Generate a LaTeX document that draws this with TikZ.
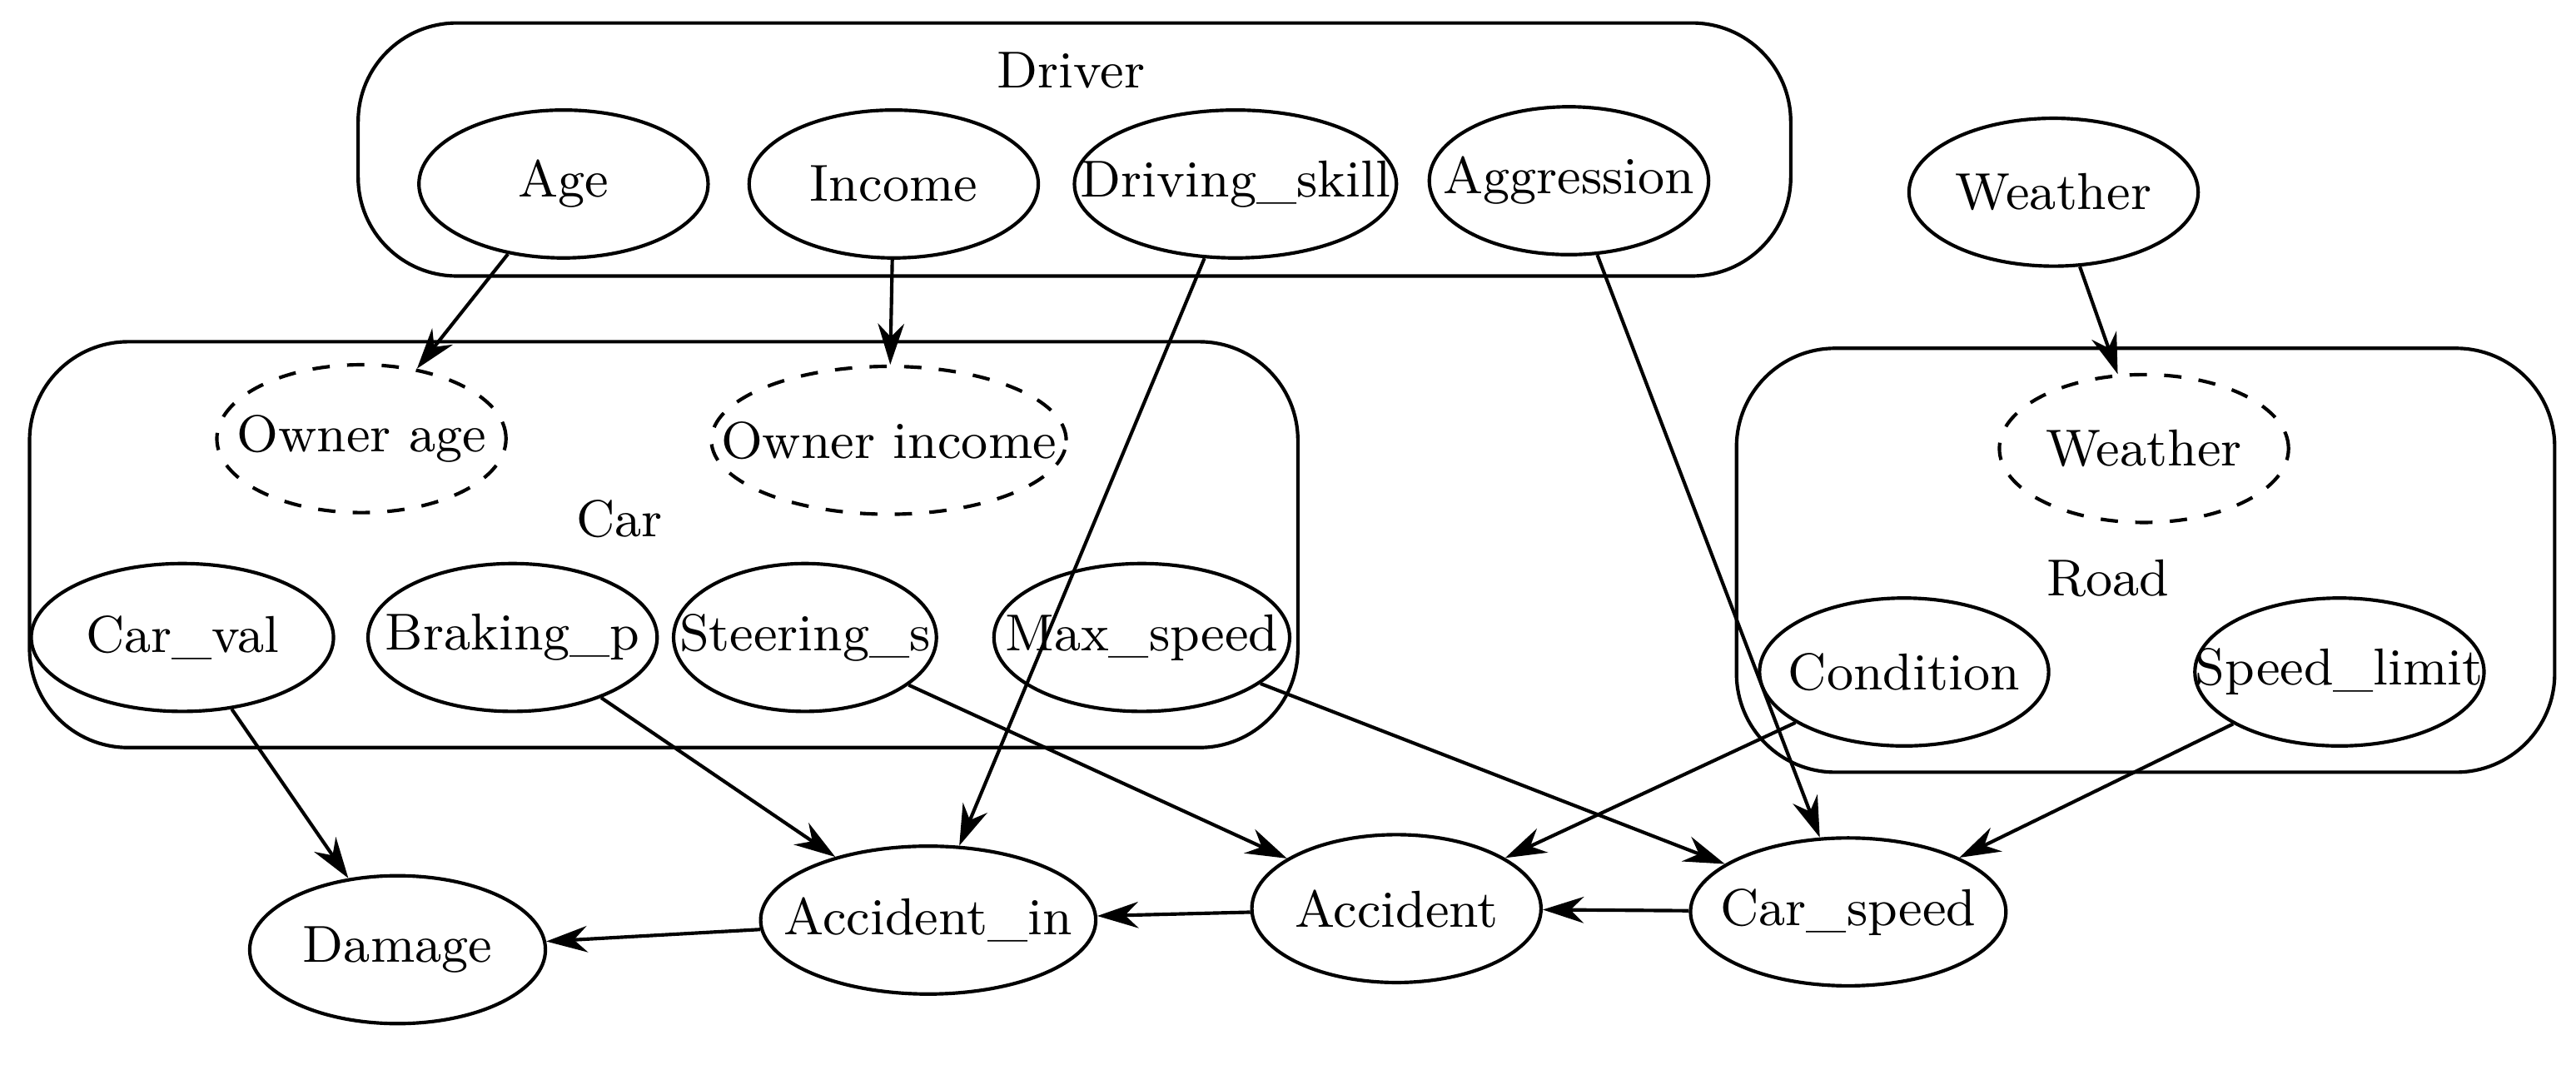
\documentclass[tikz,border=0pt]{standalone}
\usetikzlibrary{positioning,shapes.geometric,arrows.meta}
\newcommand{\vtext}[1]{\makebox[0pt]{#1}}
\begin{document}
\begin{tikzpicture}[
                font=\small,
                var/.style={ellipse, draw, semithick, inner sep=0pt, minimum height=9mm},
                hidvar/.style={var, dashed},
                group/.style={draw, semithick, rounded corners=6mm},
                edge/.style={-{Stealth[length=2.5mm,width=1.6mm]}, semithick},
            ]
            \useasboundingbox (0,0) rectangle (15.68,-6.48);

            % boxes
            \draw[group] (2.18,-0.14) rectangle (10.90,-1.68);
            \draw[group] (0.18,-2.08) rectangle (7.90,-4.55);
            \draw[group] (10.57,-2.12) rectangle (15.55,-4.70);
            \node (driver) at (6.52,-0.43) {Driver};
            \node (car) at (3.77,-3.16) {Car};
            \node (road) at (12.83,-3.52) {Road};

            % driver
            \node[var, minimum width=17.6mm] (age) at (3.43,-1.12) {\vtext{Age}};
            \node[var, minimum width=17.6mm] (income) at (5.44,-1.12) {\vtext{Income}};
            \node[var, minimum width=19.6mm] (skill) at (7.52,-1.12) {\vtext{Driving\_skill}};
            \node[var, minimum width=17mm] (aggr) at (9.55,-1.10) {\vtext{Aggression}};
            \node[var, minimum width=17.6mm] (weather) at (12.50,-1.17) {\vtext{Weather}};

            % car
            \node[hidvar, minimum width=17.6mm] (ownage) at (2.20,-2.67) {\vtext{Owner age}};
            \node[hidvar, minimum width=21.6mm] (owninc) at (5.41,-2.68) {\vtext{Owner income}};
            \node[var, minimum width=18.4mm] (carval) at (1.11,-3.88) {\vtext{Car\_val}};
            \node[var, minimum width=17.6mm] (braking) at (3.12,-3.88) {\vtext{Braking\_p}};
            \node[var, minimum width=16mm] (steering) at (4.90,-3.88) {\vtext{Steering\_s}};
            \node[var, minimum width=18mm] (maxspeed) at (6.95,-3.88) {\vtext{Max\_speed}};

            % road
            \node[hidvar, minimum width=17.6mm] (roadweather) at (13.05,-2.73) {\vtext{Weather}};
            \node[var, minimum width=17.6mm] (cond) at (11.59,-4.09) {\vtext{Condition}};
            \node[var, minimum width=17.6mm] (limit) at (14.24,-4.09) {\vtext{Speed\_limit}};

            % bottom row
            \node[var, minimum width=18mm] (damage) at (2.42,-5.78) {\vtext{Damage}};
            \node[var, minimum width=20.4mm] (accin) at (5.65,-5.60) {\vtext{Accident\_in}};
            \node[var, minimum width=17.6mm] (acc) at (8.50,-5.53) {\vtext{Accident}};
            \node[var, minimum width=19.2mm] (carspeed) at (11.25,-5.55) {\vtext{Car\_speed}};

            \draw[edge] (age) -- (ownage);
            \draw[edge] (income) -- (owninc);
            \draw[edge] (weather) -- (roadweather);
            \draw[edge] (skill) -- (accin);
            \draw[edge] (aggr) -- (carspeed);
            \draw[edge] (carval) -- (damage);
            \draw[edge] (braking) -- (accin);
            \draw[edge] (steering) -- (acc);
            \draw[edge] (maxspeed) -- (carspeed);
            \draw[edge] (cond) -- (acc);
            \draw[edge] (limit) -- (carspeed);
            \draw[edge] (carspeed) -- (acc);
            \draw[edge] (acc) -- (accin);
            \draw[edge] (accin) -- (damage);
        \end{tikzpicture}
\end{document}
